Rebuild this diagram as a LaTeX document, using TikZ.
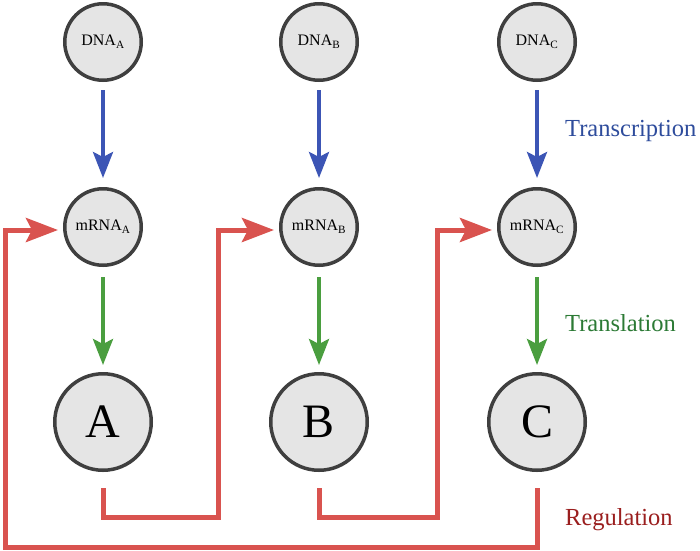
\documentclass[tikz,border=0pt]{standalone}
\usepackage{fontspec}
\setmainfont{Liberation Serif}
\newfontfamily\timesx{Liberation Serif}
\usetikzlibrary{arrows.meta}
\definecolor{nodefill}{HTML}{E5E5E5}
\definecolor{nodedraw}{HTML}{3F3F3F}
\definecolor{txblue}{HTML}{3C55B5}
\definecolor{tlgreen}{HTML}{4A9E3F}
\definecolor{regred}{HTML}{D9534F}
\definecolor{txlabel}{HTML}{2E4C9C}
\definecolor{tllabel}{HTML}{2C7A35}
\definecolor{reglabel}{HTML}{9A1E1E}
\tikzset{
  smallcirc/.style={circle,fill=nodefill,draw=nodedraw,line width=3.5pt,minimum size=76.5pt,inner sep=0pt,font=\timesx\fontsize{16}{18}\selectfont},
  bigcirc/.style={circle,fill=nodefill,draw=nodedraw,line width=3.5pt,minimum size=96.5pt,inner sep=0pt,font=\timesx\fontsize{48}{50}\selectfont},
  txarrow/.style={draw=txblue,line width=4pt,-{Stealth[length=26pt,width=20pt,inset=5pt]},shorten <=8pt,shorten >=9pt},
  tlarrow/.style={draw=tlgreen,line width=4pt,-{Stealth[length=26pt,width=20pt,inset=5pt]},shorten <=10pt,shorten >=7pt},
  regarrow/.style={draw=regred,line width=5pt,line join=miter,-{Stealth[length=32pt,width=24pt,inset=6pt]},shorten >=5pt},
  lbl/.style={anchor=west,font=\timesx\fontsize{24.5}{26}\selectfont,inner sep=0pt}
}
\begin{document}
\begin{tikzpicture}[x=1pt,y=-1pt]
\useasboundingbox (0,0) rectangle (700,550);
% nodes
\node[smallcirc] (dnaA) at (103,42) {DNA\textsubscript{A}};
\node[smallcirc] (dnaB) at (319,42) {DNA\textsubscript{B}};
\node[smallcirc] (dnaC) at (537,42) {DNA\textsubscript{C}};
\node[smallcirc] (mA) at (103,227) {mRNA\textsubscript{A}};
\node[smallcirc] (mB) at (319,227) {mRNA\textsubscript{B}};
\node[smallcirc] (mC) at (537,227) {mRNA\textsubscript{C}};
\node[bigcirc] (pA) at (103,422) {A};
\node[bigcirc] (pB) at (319,422) {B};
\node[bigcirc] (pC) at (537,422) {C};
% labels
\node[lbl,text=txlabel] (ltx) at (565,131) {Transcription};
\node[lbl,text=tllabel] (ltl) at (565,323) {Translation};
\node[lbl,text=reglabel] (lreg) at (565,520) {Regulation};
% transcription
\draw[txarrow] (dnaA) -- (mA);
\draw[txarrow] (dnaB) -- (mB);
\draw[txarrow] (dnaC) -- (mC);
% translation
\draw[tlarrow] (mA) -- (pA);
\draw[tlarrow] (mB) -- (pB);
\draw[tlarrow] (mC) -- (pC);
% regulation
\coordinate (a0) at (103,488);
\coordinate (a1) at (103,517);
\coordinate (a2) at (218,517);
\coordinate (a3) at (218,230);
\coordinate (b0) at (319,488);
\coordinate (b1) at (319,517);
\coordinate (b2) at (437,517);
\coordinate (b3) at (437,230);
\coordinate (c0) at (537,488);
\coordinate (c1) at (537,547);
\coordinate (c2) at (5,547);
\coordinate (c3) at (5,230);
\draw[regarrow] (a0) -- (a1) -- (a2) -- (a3) -- (mB.west |- a3);
\draw[regarrow] (b0) -- (b1) -- (b2) -- (b3) -- (mC.west |- b3);
\draw[regarrow] (c0) -- (c1) -- (c2) -- (c3) -- (mA.west |- c3);
\end{tikzpicture}
\end{document}
